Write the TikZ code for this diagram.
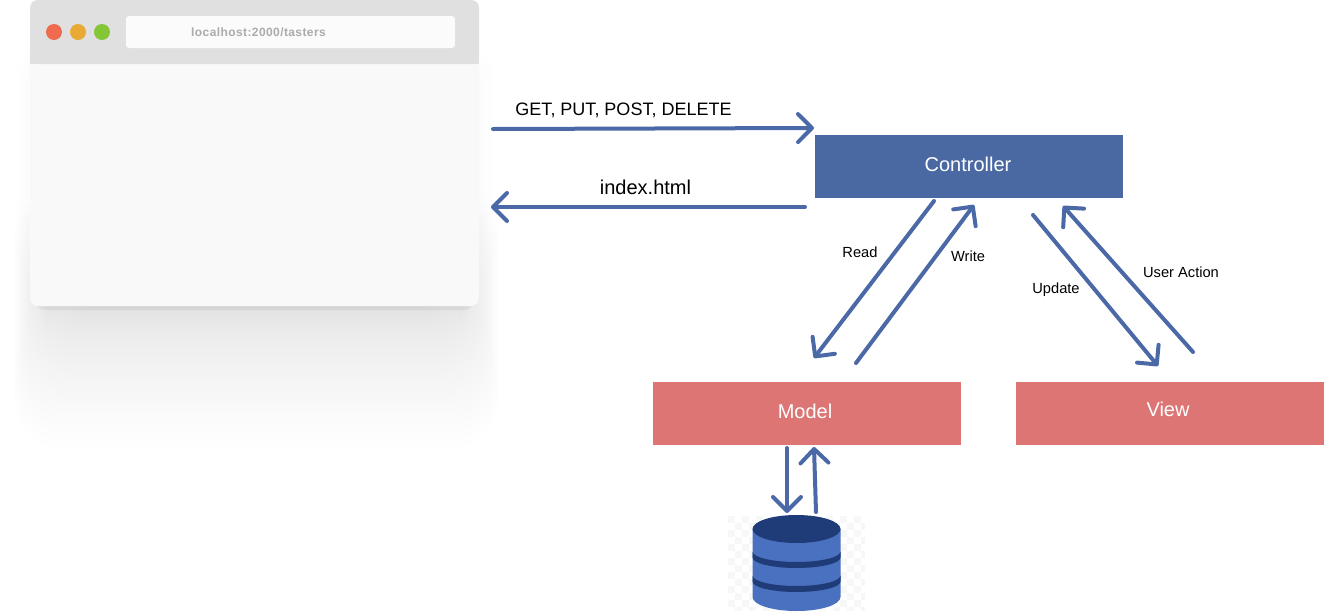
\documentclass[tikz,border=0pt]{standalone}
\usepackage{fontspec}
\setmainfont{Liberation Sans}
\usetikzlibrary{arrows.meta}
\definecolor{ctrlblue}{HTML}{4A69A3}
\definecolor{flowblue}{HTML}{4A69A6}
\definecolor{boxred}{HTML}{DD7574}
\definecolor{barGray}{HTML}{E0E0E0}
\definecolor{pageGray}{HTML}{F9F9F9}
\definecolor{urlGray}{HTML}{FBFBFB}
\definecolor{dbbody}{HTML}{4A70C0}
\definecolor{dbdark}{HTML}{1F3C78}
\definecolor{dotred}{HTML}{EE6C4D}
\definecolor{dotyellow}{HTML}{E8A935}
\definecolor{dotgreen}{HTML}{85C637}
\tikzset{
  flow/.style={draw=flowblue,line width=3pt,line cap=round,-{Straight Barb[length=10.5pt,width=21pt,round]}},
  box/.style={minimum width=231pt,minimum height=47.25pt,inner sep=0pt},
  lab/.style={inner sep=0pt,font=\fontsize{11}{13}\selectfont},
  biglab/.style={inner sep=0pt,font=\fontsize{15}{18}\selectfont},
  dot/.style={circle,minimum size=12pt,inner sep=0pt}
}
\begin{document}
\begin{tikzpicture}[x=.75pt,y=-.75pt]
\useasboundingbox (0,0) rectangle (1324,611);
% shadow under the browser
\foreach \i in {1,...,3}{
  \fill[black,opacity=.004,rounded corners=20pt] ({30-5*\i},{64-5*\i}) rectangle ({479+5*\i},{290-20*\i});
}
\foreach \i in {1,...,32}{
  \pgfmathsetmacro{\sl}{48-34*\i/32}
  \pgfmathsetmacro{\sr}{461+38*\i/32}
  \pgfmathsetmacro{\st}{298-110*\i/32}
  \pgfmathsetmacro{\sb}{308+140*(\i/32)^1.8}
  \fill[black,opacity=.004,rounded corners=36pt] (\sl,\st) rectangle (\sr,\sb);
}
\fill[black,opacity=.05,rounded corners=6pt] (36,290) rectangle (473,310);
% browser
\node[fill=pageGray,rounded corners=6pt,minimum width=336.75pt,minimum height=229.5pt,inner sep=0pt] (browser) at (254.5,153) {};
\fill[barGray,rounded corners=6pt] (30,64) -- (30,0) -- (479,0) -- (479,64) -- cycle;
\fill[barGray] (30,50) rectangle (479,64);
\node[dot,fill=dotred] (reddot) at (54,32) {};
\node[dot,fill=dotyellow] (yellowdot) at (78,32) {};
\node[dot,fill=dotgreen] (greendot) at (102,32) {};
\node[fill=urlGray,rounded corners=2.5pt,minimum width=246.75pt,minimum height=24pt,inner sep=0pt] (urlbar) at (290.5,32) {};
\node[inner sep=0pt,text=black!33,font=\fontsize{9}{11}\selectfont\bfseries\addfontfeature{LetterSpace=3.4}] (url) at (258.5,32) {localhost:2000/tasters};
% boxes
\node[box,fill=ctrlblue] (controller) at (969,166.5) {};
\node[box,fill=boxred] (model) at (807,413.5) {};
\node[box,fill=boxred] (view) at (1170,413.5) {};
\node[biglab,text=white] (ctrllab) at (968,164.5) {Controller};
\node[biglab,text=white] (modellab) at (805,411) {Model};
\node[biglab,text=white] (viewlab) at (1168,409) {View};
% database
\foreach \i in {0,...,19}{
  \foreach \j in {0,...,13}{
    \pgfmathparse{int(mod(\i+\j,2))}
    \ifnum\pgfmathresult=0
      \fill[black!3] (728+7*\i,516+7*\j) rectangle ({min(728+7*\i+7,865)},{min(516+7*\j+7,611)});
    \fi
  }
}
\fill[dbbody] (752.5,529) -- (752.5,597) arc[start angle=180,end angle=360,x radius=44,y radius=-14] -- (840.5,529) -- cycle;
\fill[dbdark] (752.5,551.5) arc[start angle=180,end angle=360,x radius=44,y radius=-10.5] -- (840.5,557.5) arc[start angle=360,end angle=180,x radius=44,y radius=-10.5] -- cycle;
\fill[dbdark] (752.5,575.5) arc[start angle=180,end angle=360,x radius=44,y radius=-10.5] -- (840.5,581.5) arc[start angle=360,end angle=180,x radius=44,y radius=-10.5] -- cycle;
\fill[dbdark] (796.5,529) ellipse[x radius=44,y radius=14];
% connector ends
\coordinate (getfrom) at (493,129);
\coordinate (getto) at (814,128);
\coordinate (indexfrom) at (805,207);
\coordinate (indexto) at (491,207);
\coordinate (readfrom) at (934,201);
\coordinate (readto) at (814,358);
\coordinate (writefrom) at (856,363);
\coordinate (writeto) at (974,205);
\coordinate (updatefrom) at (1033,215);
\coordinate (updateto) at (1158,366);
\coordinate (actionfrom) at (1193,352);
\coordinate (actionto) at (1063,206);
\coordinate (dbdownfrom) at (787,448);
\coordinate (dbdownto) at (787,513);
\coordinate (dbupfrom) at (816,512);
\coordinate (dbupto) at (814,447);
\draw[flow] (getfrom)--(getto);
\draw[flow] (indexfrom)--(indexto);
\draw[flow] (readfrom)--(readto);
\draw[flow] (writefrom)--(writeto);
\draw[flow] (updatefrom)--(updateto);
\draw[flow] (actionfrom)--(actionto);
\draw[flow] (dbdownfrom)--(dbdownto);
\draw[flow] (dbupfrom)--(dbupto);
% labels
\node[biglab,font=\fontsize{13.5}{16}\selectfont] (getlab) at (623.5,110) {GET, PUT, POST, DELETE};
\node[biglab] (indexlab) at (645.5,187.5) {index.html};
\node[lab] (readlab) at (860,252) {Read};
\node[lab] (writelab) at (968,256) {Write};
\node[lab] (updatelab) at (1056,289.5) {Update};
\node[lab] (actionlab) at (1181,272) {User Action};
\end{tikzpicture}
\end{document}
